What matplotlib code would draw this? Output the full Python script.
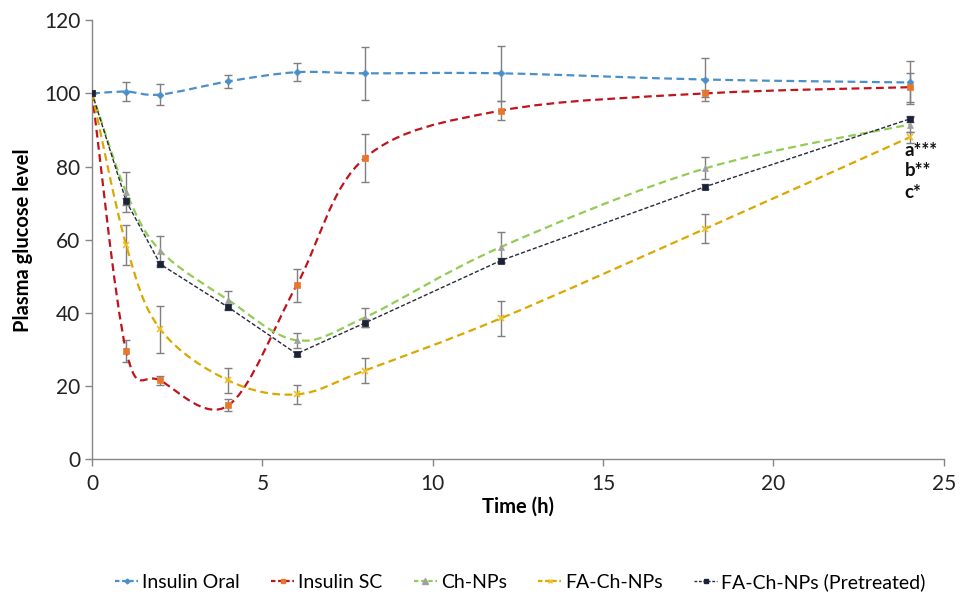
import numpy as np
import matplotlib
matplotlib.use("Agg")
import matplotlib.pyplot as plt
from matplotlib.path import Path
from matplotlib.patches import PathPatch
from matplotlib.lines import Line2D

plt.rcParams['font.family'] = ['Lato', 'DejaVu Sans']

# time points (h)
time_h = [0, 1, 2, 4, 6, 8, 12, 18, 24]

# plasma glucose level (% of initial) and error bars
insulin_oral = [100, 100.5, 99.7, 103.3, 105.8, 105.5, 105.5, 103.8, 103.0]
insulin_oral_err = [0, 2.5, 2.8, 1.8, 2.5, 7.3, 7.5, 6.0, 6.0]

insulin_sc = [100, 29.5, 21.5, 14.7, 47.5, 82.3, 95.3, 100.0, 101.7]
insulin_sc_err = [0, 3.0, 1.3, 1.6, 4.5, 6.5, 2.5, 1.0, 4.0]

ch_nps = [100, 73.0, 57.0, 43.5, 32.5, 38.7, 58.0, 79.5, 91.5]
ch_nps_err = [0, 5.5, 4.0, 2.5, 2.0, 2.5, 4.0, 3.0, 2.0]

fa_ch_nps = [100, 58.5, 35.5, 21.5, 17.7, 24.2, 38.5, 63.0, 88.0]
fa_ch_nps_err = [0, 5.5, 6.5, 3.5, 2.5, 3.5, 4.8, 4.0, 1.5]

fa_ch_pre = [100, 70.5, 53.3, 41.5, 28.8, 37.2, 54.3, 74.5, 93.0]
fa_ch_pre_err = [0, 1.0, 0.8, 0.8, 0.6, 1.0, 0.8, 0.6, 0.8]

series_labels = ["Insulin Oral", "Insulin SC", "Ch-NPs", "FA-Ch-NPs", "FA-Ch-NPs (Pretreated)"]
sig_labels = ["a***", "b**", "c*"]
sig_y = [84.5, 79.0, 73.0]


def smooth_path(x, y):
    # excel-style smoothed line: cubic bezier through the points (catmull-rom control points)
    pts = np.column_stack([x, y]).astype(float)
    verts = [pts[0]]
    codes = [Path.MOVETO]
    n = len(pts)
    for i in range(n - 1):
        p0 = pts[i - 1] if i > 0 else pts[i]
        p1 = pts[i]
        p2 = pts[i + 1]
        p3 = pts[i + 2] if i + 2 < n else pts[i + 1]
        verts += [p1 + (p2 - p0) / 6.0, p2 - (p3 - p1) / 6.0, p2]
        codes += [Path.CURVE4] * 3
    return Path(verts, codes)


fig = plt.figure(figsize=(9.6, 5.97), dpi=100)
ax = fig.add_axes([0.096, 0.231, 0.887, 0.735])

styles = [
    # data, err, line colour, marker, marker colour, marker size, smooth, line width
    (insulin_oral, insulin_oral_err, '#4a8fc9', 'D', '#4a8fc9', 3.5, True, 1.6),
    (insulin_sc, insulin_sc_err, '#c0141c', 's', '#e8772e', 4.0, True, 1.6),
    (ch_nps, ch_nps_err, '#92cc55', '^', '#a0a0a0', 5.0, True, 1.6),
    (fa_ch_nps, fa_ch_nps_err, '#dba800', 'x', '#f0c020', 4.0, True, 1.6),
    (fa_ch_pre, fa_ch_pre_err, '#262a3a', 's', '#1c2238', 4.5, False, 1.0),
]

handles = []
for (vals, err, lc, mk, mc, ms, smooth, lw), lab in zip(styles, series_labels):
    ax.errorbar(time_h, vals, yerr=err, fmt='none', ecolor='#7f7f7f',
                elinewidth=1.0, capsize=3, capthick=1.0, zorder=2)
    if smooth:
        ax.add_patch(PathPatch(smooth_path(time_h, vals), fill=False, edgecolor=lc,
                               lw=lw, linestyle=(0, (3.5, 2)), zorder=3))
    else:
        ax.plot(time_h, vals, color=lc, lw=lw, linestyle=(0, (3, 1.5)), zorder=3)
    ax.plot(time_h, vals, linestyle='none', marker=mk, color=mc, markersize=ms,
            markeredgewidth=1.2 if mk == 'x' else 0.5, zorder=4)
    handles.append(Line2D([], [], color=lc, lw=lw, linestyle=(0, (2, 1.2)),
                          marker=mk, markersize=ms - 1, markerfacecolor=mc,
                          markeredgecolor=mc))

for lab, yv in zip(sig_labels, sig_y):
    ax.text(23.85, yv, lab, fontsize=13.5, fontweight='bold', color='#111111',
            ha='left', va='center')

ax.set_xlim(0, 25)
ax.set_ylim(0, 120)
ax.set_xticks(range(0, 26, 5))
ax.set_yticks(range(0, 121, 20))
ax.tick_params(axis='both', labelsize=15, color='#868686', length=5, width=1,
               labelcolor='#222222', direction='out')
ax.tick_params(axis='x', pad=6)
for side in ('top', 'right'):
    ax.spines[side].set_visible(False)
for side in ('left', 'bottom'):
    ax.spines[side].set_color('#868686')
    ax.spines[side].set_linewidth(1.0)

ax.set_xlabel('Time (h)', fontsize=14.5, fontweight='bold', labelpad=2)
ax.set_ylabel('Plasma glucose level', fontsize=14.5, fontweight='bold', labelpad=8)

fig.legend(handles, series_labels, loc='center', bbox_to_anchor=(0.542, 0.025),
           ncol=5, frameon=False, fontsize=14, handlelength=1.2,
           handletextpad=0.2, columnspacing=1.6)

fig.savefig('out.png', dpi=100)
